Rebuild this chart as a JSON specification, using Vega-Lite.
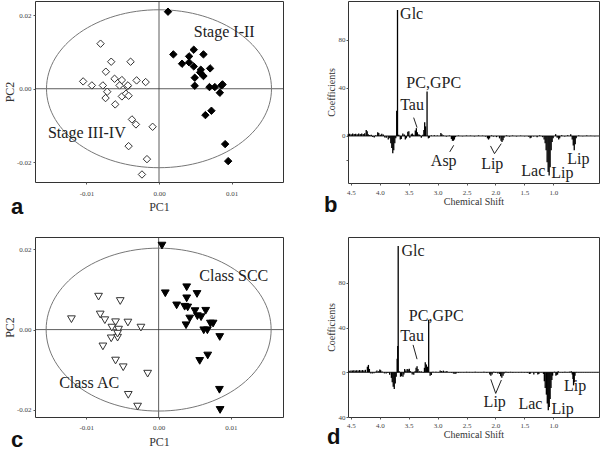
{
"$schema": "https://vega.github.io/schema/vega-lite/v6.json",
"background": "white",
"padding": {"left": 2, "top": 0, "right": 0, "bottom": 0},
"config": {
  "view": {"stroke": "#333", "strokeWidth": 1},
  "axis": {"domain": false, "grid": false, "tickSize": 2, "tickColor": "#555", "labelFont": "Liberation Serif", "labelFontSize": 7, "labelColor": "#444", "labelPadding": 2, "titleFont": "Liberation Serif", "titleFontWeight": "normal", "titleColor": "#333"},
  "text": {"font": "Liberation Serif", "fontSize": 16, "color": "#222"},
  "title": {"font": "Liberation Sans", "fontSize": 22, "fontWeight": "bold", "color": "#111", "orient": "bottom", "anchor": "start", "frame": "group", "baseline": "alphabetic"}
},
"columns": 2,
"spacing": {"row": 54, "column": 65},
"bounds": "flush",
"concat": [
{
  "width": 248, "height": 181,
  "title": {"text": "a", "dx": -24, "offset": -15},
  "encoding": {
    "x": {"field": "pc1", "type": "quantitative", "scale": {"domain": [-0.0171, 0.0171], "nice": false, "zero": false}, "axis": {"values": [-0.01, 0, 0.01], "format": ".2f", "labelExpr": "replace(datum.label, '−', '-')", "title": "PC1", "titleFontSize": 12, "labelPadding": 5, "titlePadding": 5}},
    "y": {"field": "pc2", "type": "quantitative", "scale": {"domain": [-0.0253, 0.0238], "nice": false, "zero": false}, "axis": {"values": [-0.02, 0, 0.02], "format": ".2f", "labelExpr": "replace(datum.label, '−', '-')", "title": "PC2", "titleFontSize": 12, "titlePadding": 0}}
  },
  "layer": [
    {"data": {"values": [{"pc1": -0.0171, "pc2": 0, "pc1b": 0.0171, "pc2b": 0}, {"pc1": 0, "pc2": -0.0253, "pc1b": 0, "pc2b": 0.0238}]},
     "mark": {"type": "rule", "color": "#333", "strokeWidth": 0.8},
     "encoding": {"x2": {"field": "pc1b"}, "y2": {"field": "pc2b"}}},
    {"data": {"values": [{"pc1": 0, "pc2": 0}]},
     "mark": {"type": "point", "shape": "M -1 0 A 1 0.702 0 1 0 1 0 A 1 0.702 0 1 0 -1 0 Z", "size": 50625, "filled": false, "stroke": "#777", "strokeWidth": 1, "opacity": 1},
     "encoding": {}},
    {"data": {"values": [
      {"pc1": 0.00124, "pc2": 0.0209, "g": "I-II"}, {"pc1": 0.00198, "pc2": 0.00932, "g": "I-II"}, {"pc1": 0.00479, "pc2": 0.01059, "g": "I-II"}, {"pc1": 0.00613, "pc2": 0.00932, "g": "I-II"},
      {"pc1": 0.00415, "pc2": 0.00878, "g": "I-II"}, {"pc1": 0.00318, "pc2": 0.00679, "g": "I-II"}, {"pc1": 0.00415, "pc2": 0.00715, "g": "I-II"}, {"pc1": 0.00479, "pc2": 0.00606, "g": "I-II"},
      {"pc1": 0.00576, "pc2": 0.00516, "g": "I-II"}, {"pc1": 0.00705, "pc2": 0.00552, "g": "I-II"}, {"pc1": 0.00613, "pc2": 0.00344, "g": "I-II"}, {"pc1": 0.00567, "pc2": 0.00443, "g": "I-II"},
      {"pc1": 0.00493, "pc2": 0.00299, "g": "I-II"}, {"pc1": 0.00493, "pc2": 0.00081, "g": "I-II"}, {"pc1": 0.00696, "pc2": 0.00045, "g": "I-II"}, {"pc1": 0.0077, "pc2": 0.00045, "g": "I-II"},
      {"pc1": 0.00862, "pc2": 0.0009, "g": "I-II"}, {"pc1": 0.00876, "pc2": 0.00118, "g": "I-II"}, {"pc1": 0.00839, "pc2": -0.00109, "g": "I-II"}, {"pc1": 0.0064, "pc2": -0.00715, "g": "I-II"},
      {"pc1": 0.00723, "pc2": -0.00597, "g": "I-II"}, {"pc1": 0.00912, "pc2": -0.01502, "g": "I-II"}, {"pc1": 0.00954, "pc2": -0.01964, "g": "I-II"},
      {"pc1": -0.00806, "pc2": 0.01222, "g": "III-IV"}, {"pc1": -0.00659, "pc2": 0.00733, "g": "III-IV"}, {"pc1": -0.00392, "pc2": 0.00733, "g": "III-IV"}, {"pc1": -0.00733, "pc2": 0.00462, "g": "III-IV"},
      {"pc1": -0.01046, "pc2": 0.00199, "g": "III-IV"}, {"pc1": -0.00926, "pc2": 0.0009, "g": "III-IV"}, {"pc1": -0.00774, "pc2": 0.0009, "g": "III-IV"}, {"pc1": -0.00613, "pc2": 0.00271, "g": "III-IV"},
      {"pc1": -0.00512, "pc2": 0.00235, "g": "III-IV"}, {"pc1": -0.00544, "pc2": 0.0009, "g": "III-IV"}, {"pc1": -0.00438, "pc2": 0.00063, "g": "III-IV"}, {"pc1": -0.00429, "pc2": 0.0009, "g": "III-IV"},
      {"pc1": -0.00309, "pc2": 0.00226, "g": "III-IV"}, {"pc1": -0.00184, "pc2": 0.00181, "g": "III-IV"}, {"pc1": -0.00714, "pc2": -0.00081, "g": "III-IV"}, {"pc1": -0.00737, "pc2": -0.00253, "g": "III-IV"},
      {"pc1": -0.00512, "pc2": -0.00208, "g": "III-IV"}, {"pc1": -0.00456, "pc2": -0.00136, "g": "III-IV"}, {"pc1": -0.00419, "pc2": -0.0019, "g": "III-IV"}, {"pc1": -0.00604, "pc2": -0.00425, "g": "III-IV"},
      {"pc1": -0.00373, "pc2": -0.00833, "g": "III-IV"}, {"pc1": -0.00318, "pc2": -0.00968, "g": "III-IV"}, {"pc1": -0.00088, "pc2": -0.01032, "g": "III-IV"}, {"pc1": -0.00419, "pc2": -0.01557, "g": "III-IV"},
      {"pc1": -0.00166, "pc2": -0.0191, "g": "III-IV"}, {"pc1": -0.00235, "pc2": -0.02326, "g": "III-IV"}]},
     "mark": {"type": "point", "shape": "diamond", "size": 55, "filled": true, "opacity": 1, "strokeWidth": 1},
     "encoding": {
       "fill": {"field": "g", "type": "nominal", "scale": {"domain": ["I-II", "III-IV"], "range": ["#000", "#fff"]}, "legend": null},
       "stroke": {"field": "g", "type": "nominal", "scale": {"domain": ["I-II", "III-IV"], "range": ["#000", "#333"]}, "legend": null}}},
    {"data": {"values": [{"pc1": 0.00899, "pc2": 0.01539, "label": "Stage I-II"}, {"pc1": -0.00995, "pc2": -0.01204, "label": "Stage III-IV"}]},
     "mark": {"type": "text", "align": "center", "baseline": "middle"},
     "encoding": {"text": {"field": "label"}}}
  ]
},
{
  "width": 251, "height": 182,
  "title": {"text": "b", "dx": -24, "offset": -11},
  "encoding": {
    "x": {"field": "ppm", "type": "quantitative", "scale": {"domain": [0.21, 4.55], "reverse": true, "nice": false, "zero": false}, "axis": {"values": [4.5, 4.0, 3.5, 3.0, 2.5, 2.0, 1.5, 1.0], "format": ".1f", "title": "Chemical Shift", "titleFontSize": 10, "labelPadding": 3, "titlePadding": 1}},
    "y": {"field": "v", "type": "quantitative", "scale": {"domain": [-39.2, 112.5], "nice": false, "zero": false}, "axis": {"values": [-20, 0, 40, 80], "labelExpr": "datum.value < 0 ? '' : datum.label", "title": "Coefficients", "titleFontSize": 10, "labelPadding": 1, "titlePadding": 2}}
  },
  "layer": [
    {"data": {"values": [{"ppm": 4.55, "v": 0, "ppm2": 0.21, "v2": 0}, {"ppm": 3.415, "v": 15.3, "ppm2": 3.356, "v2": 7.0}, {"ppm": 2.791, "v": -13.3, "ppm2": 2.722, "v2": -7.75}, {"ppm": 2.086, "v": -8.3, "ppm2": 2.017, "v2": -14.75}, {"ppm": 2.017, "v": -14.75, "ppm2": 1.9, "v2": -6.4}]},
     "mark": {"type": "rule", "color": "#222", "strokeWidth": 1},
     "encoding": {"x2": {"field": "ppm2"}, "y2": {"field": "v2"}}},
    {"data": {"values": [
      {"ppm": 4.547, "v": 1.5}, {"ppm": 4.521, "v": 1.8}, {"ppm": 4.495, "v": 1.5}, {"ppm": 4.469, "v": 2.0}, {"ppm": 4.443, "v": 1.6}, {"ppm": 4.417, "v": 1.8}, {"ppm": 4.391, "v": 1.4}, {"ppm": 4.365, "v": 2.0},
      {"ppm": 4.339, "v": 1.7}, {"ppm": 4.313, "v": 2.1}, {"ppm": 4.287, "v": 1.6}, {"ppm": 4.261, "v": 2.2}, {"ppm": 4.235, "v": 5.0}, {"ppm": 4.218, "v": 4.0}, {"ppm": 4.2, "v": 1.5}, {"ppm": 4.174, "v": 0.8},
      {"ppm": 4.148, "v": 1.0}, {"ppm": 4.122, "v": -0.8}, {"ppm": 4.096, "v": -1.3}, {"ppm": 4.07, "v": 0.6}, {"ppm": 4.036, "v": 3.2}, {"ppm": 4.018, "v": 2.5}, {"ppm": 3.992, "v": 1.0}, {"ppm": 3.966, "v": 1.8},
      {"ppm": 3.94, "v": 1.2}, {"ppm": 3.914, "v": -1.2}, {"ppm": 3.888, "v": -1.5}, {"ppm": 3.854, "v": -3.0}, {"ppm": 3.828, "v": -2.0}, {"ppm": 3.81, "v": -6}, {"ppm": 3.793, "v": -10}, {"ppm": 3.776, "v": -14.5},
      {"ppm": 3.759, "v": -12}, {"ppm": 3.741, "v": -6}, {"ppm": 3.724, "v": -2}, {"ppm": 3.708, "v": 21}, {"ppm": 3.694, "v": 105}, {"ppm": 3.672, "v": 1.0}, {"ppm": 3.646, "v": -3}, {"ppm": 3.629, "v": -2.5},
      {"ppm": 3.602, "v": 2.0}, {"ppm": 3.576, "v": 1.2}, {"ppm": 3.559, "v": -3.0}, {"ppm": 3.542, "v": -2.0}, {"ppm": 3.516, "v": 3.5}, {"ppm": 3.498, "v": 4.0}, {"ppm": 3.481, "v": -1.5}, {"ppm": 3.455, "v": 1.5},
      {"ppm": 3.438, "v": 2.0}, {"ppm": 3.412, "v": 1.0}, {"ppm": 3.386, "v": 4.5}, {"ppm": 3.368, "v": 6.5}, {"ppm": 3.351, "v": 3.0}, {"ppm": 3.325, "v": 1.5}, {"ppm": 3.308, "v": 0.8}, {"ppm": 3.282, "v": -1.5},
      {"ppm": 3.256, "v": 1.0}, {"ppm": 3.238, "v": 5}, {"ppm": 3.224, "v": 11.5}, {"ppm": 3.209, "v": 8}, {"ppm": 3.183, "v": 37}, {"ppm": 3.16, "v": -2.0}, {"ppm": 3.143, "v": -1.5}, {"ppm": 3.108, "v": 0.5},
      {"ppm": 3.057, "v": 0.6}, {"ppm": 3.004, "v": 0.4}, {"ppm": 2.944, "v": 2.5}, {"ppm": 2.926, "v": 1.5}, {"ppm": 2.9, "v": 0.5}, {"ppm": 2.848, "v": -0.5}, {"ppm": 2.796, "v": 0.4}, {"ppm": 2.762, "v": -2.5},
      {"ppm": 2.744, "v": -4.0}, {"ppm": 2.727, "v": -4.0}, {"ppm": 2.71, "v": -3.0}, {"ppm": 2.692, "v": -1.0}, {"ppm": 2.64, "v": 0.4}, {"ppm": 2.57, "v": -0.3}, {"ppm": 2.501, "v": 0.4}, {"ppm": 2.432, "v": 0.3},
      {"ppm": 2.363, "v": -0.4}, {"ppm": 2.293, "v": 0.5}, {"ppm": 2.224, "v": 0.3}, {"ppm": 2.172, "v": -0.5}, {"ppm": 2.138, "v": -2.0}, {"ppm": 2.12, "v": -3.0}, {"ppm": 2.103, "v": -2.0}, {"ppm": 2.068, "v": 0.5},
      {"ppm": 2.034, "v": -0.5}, {"ppm": 1.982, "v": -1.0}, {"ppm": 1.93, "v": -2.0}, {"ppm": 1.904, "v": -4.0}, {"ppm": 1.887, "v": -5.0}, {"ppm": 1.869, "v": -3.5}, {"ppm": 1.852, "v": -1.5}, {"ppm": 1.809, "v": 0.5},
      {"ppm": 1.757, "v": -0.5}, {"ppm": 1.705, "v": 0.4}, {"ppm": 1.636, "v": -0.4}, {"ppm": 1.566, "v": 0.3}, {"ppm": 1.497, "v": -0.3}, {"ppm": 1.428, "v": -0.6}, {"ppm": 1.401, "v": -2.0}, {"ppm": 1.384, "v": -1.5},
      {"ppm": 1.341, "v": -0.4}, {"ppm": 1.28, "v": -1.0}, {"ppm": 1.237, "v": 0.5}, {"ppm": 1.185, "v": -1.0}, {"ppm": 1.159, "v": -3}, {"ppm": 1.141, "v": -6}, {"ppm": 1.124, "v": -12}, {"ppm": 1.107, "v": -22},
      {"ppm": 1.089, "v": -30}, {"ppm": 1.072, "v": -33}, {"ppm": 1.055, "v": -26}, {"ppm": 1.037, "v": -12}, {"ppm": 1.02, "v": -5}, {"ppm": 1.003, "v": -2}, {"ppm": 0.96, "v": 1.5}, {"ppm": 0.933, "v": -1.5},
      {"ppm": 0.907, "v": -3.0}, {"ppm": 0.89, "v": -2.0}, {"ppm": 0.855, "v": 0.5}, {"ppm": 0.803, "v": -0.5}, {"ppm": 0.751, "v": 0.5}, {"ppm": 0.699, "v": 1.5}, {"ppm": 0.673, "v": -3}, {"ppm": 0.655, "v": -8},
      {"ppm": 0.638, "v": -12}, {"ppm": 0.621, "v": -7}, {"ppm": 0.604, "v": -2}, {"ppm": 0.561, "v": 0.4}, {"ppm": 0.491, "v": -0.3}, {"ppm": 0.422, "v": 0.3}, {"ppm": 0.353, "v": 0.2}, {"ppm": 0.283, "v": -0.2}]},
     "mark": {"type": "rule", "color": "#000", "strokeWidth": 1.3},
     "encoding": {"y2": {"datum": 0}}},
    {"data": {"values": [{"ppm": 3.45, "v": 101.9, "label": "Glc"}, {"ppm": 3.068, "v": 44.2, "label": "PC,GPC"}, {"ppm": 3.443, "v": 26.1, "label": "Tau"}, {"ppm": 2.895, "v": -20.8, "label": "Asp"}, {"ppm": 2.056, "v": -23.1, "label": "Lip"}, {"ppm": 1.346, "v": -29.4, "label": "Lac"}, {"ppm": 0.843, "v": -30.6, "label": "Lip"}, {"ppm": 0.566, "v": -19.4, "label": "Lip"}]},
     "mark": {"type": "text", "align": "center", "baseline": "middle"},
     "encoding": {"text": {"field": "label"}}}
  ]
},
{
  "width": 248, "height": 180,
  "title": {"text": "c", "dx": -24, "offset": -17},
  "encoding": {
    "x": {"field": "pc1", "type": "quantitative", "scale": {"domain": [-0.0171, 0.0172], "nice": false, "zero": false}, "axis": {"values": [-0.01, 0, 0.01], "format": ".2f", "labelExpr": "replace(datum.label, '−', '-')", "title": "PC1", "titleFontSize": 12, "labelPadding": 4, "titlePadding": 6}},
    "y": {"field": "pc2", "type": "quantitative", "scale": {"domain": [-0.0218, 0.0231], "nice": false, "zero": false}, "axis": {"values": [-0.02, 0, 0.02], "format": ".2f", "labelExpr": "replace(datum.label, '−', '-')", "title": "PC2", "titleFontSize": 12, "titlePadding": 0}}
  },
  "layer": [
    {"data": {"values": [{"pc1": -0.0171, "pc2": 0, "pc1b": 0.0172, "pc2b": 0}, {"pc1": 0, "pc2": -0.0218, "pc1b": 0, "pc2b": 0.0231}]},
     "mark": {"type": "rule", "color": "#333", "strokeWidth": 0.8},
     "encoding": {"x2": {"field": "pc1b"}, "y2": {"field": "pc2b"}}},
    {"data": {"values": [{"pc1": 0, "pc2": 0}]},
     "mark": {"type": "point", "shape": "M -1 0 A 1 0.724 0 1 0 1 0 A 1 0.724 0 1 0 -1 0 Z", "size": 50625, "filled": false, "stroke": "#777", "strokeWidth": 1, "opacity": 1},
     "encoding": {}},
    {"data": {"values": [
      {"pc1": 0.00046, "pc2": 0.02096, "g": "SCC"}, {"pc1": 0.00092, "pc2": 0.00906, "g": "SCC"}, {"pc1": 0.00388, "pc2": 0.01057, "g": "SCC"}, {"pc1": 0.00531, "pc2": 0.00889, "g": "SCC"},
      {"pc1": 0.00388, "pc2": 0.0078, "g": "SCC"}, {"pc1": 0.00249, "pc2": 0.00604, "g": "SCC"}, {"pc1": 0.0036, "pc2": 0.0057, "g": "SCC"}, {"pc1": 0.00402, "pc2": 0.00553, "g": "SCC"},
      {"pc1": 0.00503, "pc2": 0.00461, "g": "SCC"}, {"pc1": 0.00651, "pc2": 0.0047, "g": "SCC"}, {"pc1": 0.00536, "pc2": 0.00335, "g": "SCC"}, {"pc1": 0.00587, "pc2": 0.0031, "g": "SCC"},
      {"pc1": 0.0043, "pc2": 0.00277, "g": "SCC"}, {"pc1": 0.00379, "pc2": 0.00109, "g": "SCC"}, {"pc1": 0.00716, "pc2": 0.00151, "g": "SCC"}, {"pc1": 0.00753, "pc2": 0.00151, "g": "SCC"},
      {"pc1": 0.00624, "pc2": -0.00017, "g": "SCC"}, {"pc1": 0.00674, "pc2": -0.00017, "g": "SCC"}, {"pc1": 0.00845, "pc2": -0.00184, "g": "SCC"}, {"pc1": 0.00568, "pc2": -0.0078, "g": "SCC"},
      {"pc1": 0.00679, "pc2": -0.00646, "g": "SCC"}, {"pc1": 0.00841, "pc2": -0.01501, "g": "SCC"}, {"pc1": 0.0085, "pc2": -0.02004, "g": "SCC"},
      {"pc1": -0.00831, "pc2": 0.00822, "g": "AC"}, {"pc1": -0.00531, "pc2": 0.00713, "g": "AC"}, {"pc1": -0.01206, "pc2": 0.0026, "g": "AC"}, {"pc1": -0.00808, "pc2": 0.00377, "g": "AC"},
      {"pc1": -0.00744, "pc2": 0.00235, "g": "AC"}, {"pc1": -0.00596, "pc2": 0.00184, "g": "AC"}, {"pc1": -0.00425, "pc2": 0.00176, "g": "AC"}, {"pc1": -0.00647, "pc2": 0.0005, "g": "AC"},
      {"pc1": -0.00554, "pc2": 0.0, "g": "AC"}, {"pc1": -0.00245, "pc2": 0.0005, "g": "AC"}, {"pc1": -0.00656, "pc2": -0.00218, "g": "AC"}, {"pc1": -0.00568, "pc2": -0.00201, "g": "AC"},
      {"pc1": -0.00568, "pc2": -0.00101, "g": "AC"}, {"pc1": -0.00771, "pc2": -0.00419, "g": "AC"}, {"pc1": -0.00596, "pc2": -0.00772, "g": "AC"}, {"pc1": -0.0049, "pc2": -0.00939, "g": "AC"},
      {"pc1": -0.00152, "pc2": -0.01099, "g": "AC"}, {"pc1": -0.0042, "pc2": -0.01627, "g": "AC"}, {"pc1": -0.00291, "pc2": -0.0192, "g": "AC"}]},
     "mark": {"type": "point", "shape": "triangle-down", "size": 60, "filled": true, "opacity": 1, "strokeWidth": 1},
     "encoding": {
       "fill": {"field": "g", "type": "nominal", "scale": {"domain": ["SCC", "AC"], "range": ["#000", "#fff"]}, "legend": null},
       "stroke": {"field": "g", "type": "nominal", "scale": {"domain": ["SCC", "AC"], "range": ["#000", "#333"]}, "legend": null}}},
    {"data": {"values": [{"pc1": 0.01039, "pc2": 0.01325, "label": "Class SCC"}, {"pc1": -0.00961, "pc2": -0.01325, "label": "Class AC"}]},
     "mark": {"type": "text", "align": "center", "baseline": "middle"},
     "encoding": {"text": {"field": "label"}}}
  ]
},
{
  "width": 251, "height": 180,
  "title": {"text": "d", "dx": -21, "offset": -12},
  "encoding": {
    "x": {"field": "ppm", "type": "quantitative", "scale": {"domain": [0.21, 4.55], "reverse": true, "nice": false, "zero": false}, "axis": {"values": [4.5, 4.0, 3.5, 3.0, 2.5, 2.0, 1.5, 1.0], "format": ".1f", "title": "Chemical Shift", "titleFontSize": 10, "labelPadding": 2, "titlePadding": 1}},
    "y": {"field": "v", "type": "quantitative", "scale": {"domain": [-40, 121], "nice": false, "zero": false}, "axis": {"values": [-40, 0, 40, 80], "labelExpr": "format(abs(datum.value), 'd')", "title": "Coefficients", "titleFontSize": 10, "labelPadding": 1, "titlePadding": 2}}
  },
  "layer": [
    {"data": {"values": [{"ppm": 4.55, "v": 0, "ppm2": 0.21, "v2": 0}, {"ppm": 3.425, "v": 24.5, "ppm2": 3.356, "v2": 11.7}, {"ppm": 2.081, "v": -6.3, "ppm2": 1.996, "v2": -18.9}, {"ppm": 1.996, "v": -18.9, "ppm2": 1.898, "v2": -6.9}]},
     "mark": {"type": "rule", "color": "#222", "strokeWidth": 1},
     "encoding": {"x2": {"field": "ppm2"}, "y2": {"field": "v2"}}},
    {"data": {"values": [
      {"ppm": 4.53, "v": 1.4}, {"ppm": 4.5, "v": 1.7}, {"ppm": 4.475, "v": 1.5}, {"ppm": 4.45, "v": 1.9}, {"ppm": 4.425, "v": 1.6}, {"ppm": 4.4, "v": 1.8}, {"ppm": 4.375, "v": 1.5}, {"ppm": 4.35, "v": 2.0},
      {"ppm": 4.325, "v": 1.6}, {"ppm": 4.3, "v": 2.0}, {"ppm": 4.275, "v": 1.7}, {"ppm": 4.25, "v": 2.2}, {"ppm": 4.215, "v": 5.0}, {"ppm": 4.197, "v": 6.6}, {"ppm": 4.18, "v": 3.0}, {"ppm": 4.16, "v": -1.0},
      {"ppm": 4.13, "v": -1.2}, {"ppm": 4.1, "v": -0.8}, {"ppm": 4.07, "v": 0.5}, {"ppm": 4.05, "v": 1.5}, {"ppm": 4.02, "v": 1.0}, {"ppm": 4.0, "v": 2.5}, {"ppm": 3.985, "v": 1.8}, {"ppm": 3.96, "v": 0.6},
      {"ppm": 3.92, "v": -1.0}, {"ppm": 3.89, "v": -1.2}, {"ppm": 3.86, "v": -0.6}, {"ppm": 3.83, "v": -2.2}, {"ppm": 3.8, "v": -5}, {"ppm": 3.785, "v": -9}, {"ppm": 3.768, "v": -13}, {"ppm": 3.75, "v": -15},
      {"ppm": 3.733, "v": -10}, {"ppm": 3.716, "v": -4}, {"ppm": 3.7, "v": 12}, {"ppm": 3.69, "v": 23.6}, {"ppm": 3.682, "v": 113}, {"ppm": 3.665, "v": 1}, {"ppm": 3.642, "v": -4}, {"ppm": 3.625, "v": -3.5},
      {"ppm": 3.6, "v": -4}, {"ppm": 3.584, "v": -2}, {"ppm": 3.57, "v": 3}, {"ppm": 3.55, "v": 1.5}, {"ppm": 3.527, "v": 3.0}, {"ppm": 3.51, "v": 2.5}, {"ppm": 3.49, "v": 3.2}, {"ppm": 3.47, "v": 1},
      {"ppm": 3.44, "v": -2}, {"ppm": 3.413, "v": -2.2}, {"ppm": 3.39, "v": 1}, {"ppm": 3.373, "v": 4}, {"ppm": 3.356, "v": 5.4}, {"ppm": 3.34, "v": 3}, {"ppm": 3.31, "v": 1}, {"ppm": 3.28, "v": 0.8},
      {"ppm": 3.25, "v": -0.5}, {"ppm": 3.228, "v": 4}, {"ppm": 3.214, "v": 9}, {"ppm": 3.195, "v": 7}, {"ppm": 3.173, "v": 5}, {"ppm": 3.155, "v": 47}, {"ppm": 3.13, "v": -3}, {"ppm": 3.11, "v": -2.5},
      {"ppm": 3.08, "v": 0.4}, {"ppm": 3.03, "v": 0.5}, {"ppm": 2.99, "v": 0.3}, {"ppm": 2.956, "v": 1.5}, {"ppm": 2.93, "v": 1.2}, {"ppm": 2.9, "v": 1.5}, {"ppm": 2.87, "v": 0.8}, {"ppm": 2.84, "v": 1.2},
      {"ppm": 2.8, "v": 0.3}, {"ppm": 2.76, "v": -0.5}, {"ppm": 2.726, "v": -1.2}, {"ppm": 2.7, "v": -1.5}, {"ppm": 2.68, "v": -1.0}, {"ppm": 2.64, "v": -0.5}, {"ppm": 2.6, "v": 0.3}, {"ppm": 2.55, "v": -0.3},
      {"ppm": 2.5, "v": 0.4}, {"ppm": 2.45, "v": 0.3}, {"ppm": 2.4, "v": -0.3}, {"ppm": 2.35, "v": 0.4}, {"ppm": 2.3, "v": 0.3}, {"ppm": 2.25, "v": -0.3}, {"ppm": 2.2, "v": 0.4}, {"ppm": 2.15, "v": -0.5},
      {"ppm": 2.099, "v": -2.0}, {"ppm": 2.08, "v": -3.0}, {"ppm": 2.058, "v": -2.0}, {"ppm": 2.03, "v": 0.5}, {"ppm": 2.0, "v": -0.5}, {"ppm": 1.96, "v": -1.0}, {"ppm": 1.93, "v": -1.5}, {"ppm": 1.91, "v": -3.5},
      {"ppm": 1.89, "v": -5.0}, {"ppm": 1.869, "v": -3.0}, {"ppm": 1.85, "v": -1.0}, {"ppm": 1.82, "v": 0.5}, {"ppm": 1.78, "v": -0.5}, {"ppm": 1.74, "v": 0.4}, {"ppm": 1.7, "v": -0.4}, {"ppm": 1.65, "v": 0.3},
      {"ppm": 1.6, "v": -0.3}, {"ppm": 1.55, "v": 0.3}, {"ppm": 1.5, "v": -0.3}, {"ppm": 1.45, "v": -0.5}, {"ppm": 1.413, "v": -1.5}, {"ppm": 1.395, "v": -1.2}, {"ppm": 1.337, "v": -2.0}, {"ppm": 1.3, "v": -0.5},
      {"ppm": 1.268, "v": -2.0}, {"ppm": 1.25, "v": -1.5}, {"ppm": 1.21, "v": 0.3}, {"ppm": 1.17, "v": -1.5}, {"ppm": 1.155, "v": -8}, {"ppm": 1.14, "v": -14}, {"ppm": 1.12, "v": -20}, {"ppm": 1.104, "v": -28},
      {"ppm": 1.087, "v": -34}, {"ppm": 1.07, "v": -31}, {"ppm": 1.055, "v": -24}, {"ppm": 1.04, "v": -14}, {"ppm": 1.025, "v": -7}, {"ppm": 1.012, "v": -3}, {"ppm": 0.98, "v": 0.5}, {"ppm": 0.955, "v": -3.0},
      {"ppm": 0.94, "v": -2.5}, {"ppm": 0.926, "v": -2.0}, {"ppm": 0.915, "v": 1.0}, {"ppm": 0.88, "v": 0.3}, {"ppm": 0.84, "v": -0.4}, {"ppm": 0.8, "v": 0.4}, {"ppm": 0.76, "v": -0.3}, {"ppm": 0.72, "v": 0.5},
      {"ppm": 0.69, "v": 1.0}, {"ppm": 0.672, "v": -2}, {"ppm": 0.66, "v": -6}, {"ppm": 0.65, "v": -11.7}, {"ppm": 0.638, "v": -9}, {"ppm": 0.625, "v": -3}, {"ppm": 0.6, "v": 0.3}, {"ppm": 0.56, "v": -0.3},
      {"ppm": 0.52, "v": 0.3}, {"ppm": 0.48, "v": -0.2}, {"ppm": 0.44, "v": 0.2}, {"ppm": 0.4, "v": -0.2}, {"ppm": 0.36, "v": 0.2}, {"ppm": 0.32, "v": -0.2}, {"ppm": 0.28, "v": 0.2}, {"ppm": 0.24, "v": -0.1}]},
     "mark": {"type": "rule", "color": "#000", "strokeWidth": 1.3},
     "encoding": {"y2": {"datum": 0}}},
    {"data": {"values": [{"ppm": 3.425, "v": 108.5, "label": "Glc"}, {"ppm": 3.025, "v": 50, "label": "PC,GPC"}, {"ppm": 3.442, "v": 32.6, "label": "Tau"}, {"ppm": 2.013, "v": -26.3, "label": "Lip"}, {"ppm": 1.395, "v": -28.5, "label": "Lac"}, {"ppm": 0.84, "v": -32.4, "label": "Lip"}, {"ppm": 0.623, "v": -12, "label": "Lip"}]},
     "mark": {"type": "text", "align": "center", "baseline": "middle"},
     "encoding": {"text": {"field": "label"}}}
  ]
}
]
}
